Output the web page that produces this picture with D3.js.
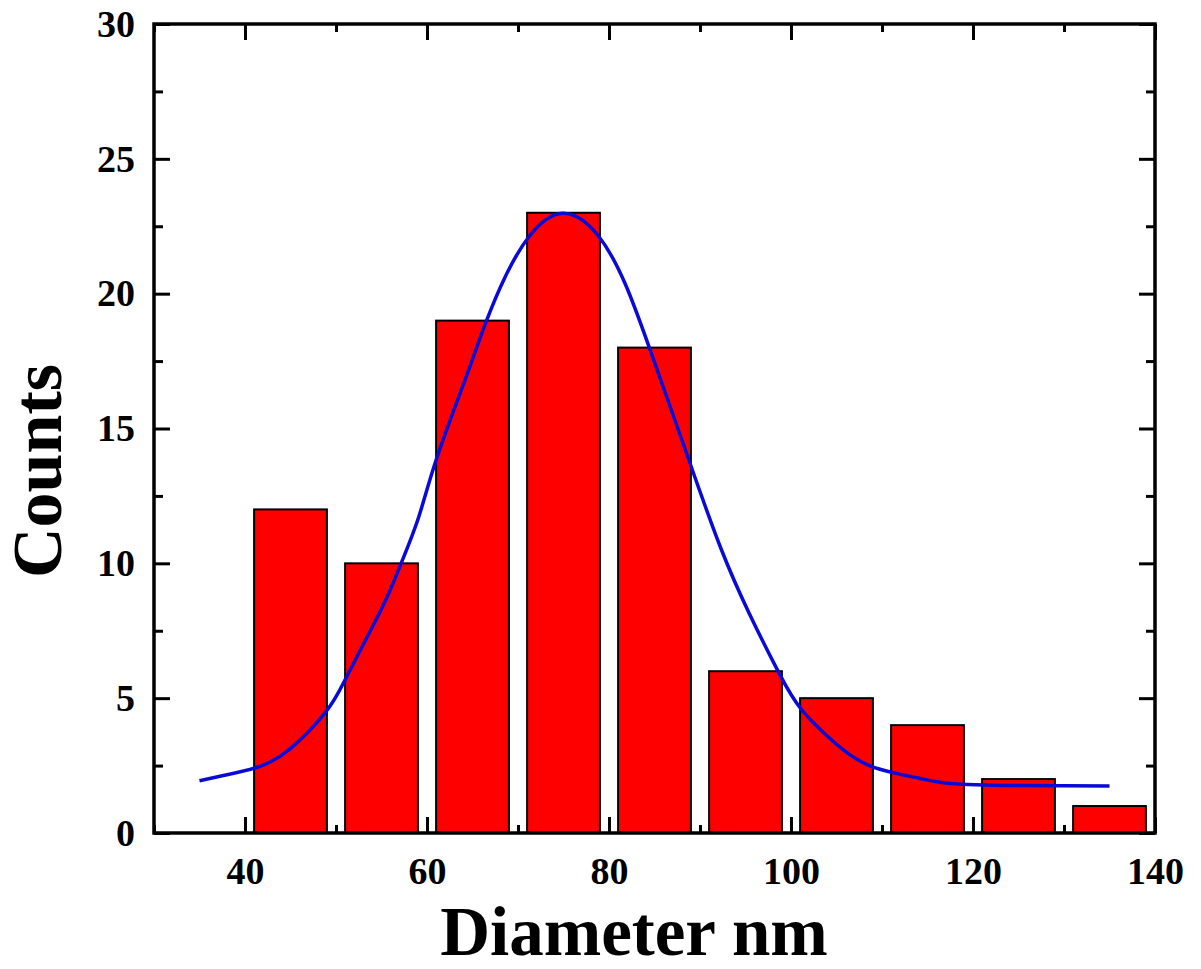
<!DOCTYPE html>
<html>
<head>
<meta charset="utf-8">
<script src="https://cdn.jsdelivr.net/npm/d3@7"></script>
<style>
  html, body { margin: 0; padding: 0; background: #fff; }
  svg text { font-family: "Liberation Serif", "Times New Roman", serif; font-weight: bold; fill: #000; }
</style>
</head>
<body>
<div class="chart"></div>
<script>
// histogram bins (nm) and counts
const binLeft = [41, 51, 61, 71, 81, 91, 101, 111, 121, 131];
const binRight = [49, 59, 69, 79, 89, 99, 109, 119, 129, 139];
const counts = [12, 10, 19, 23, 18, 6, 5, 4, 2, 1];

// fitted curve, points
const fitX = [35, 37.5, 41.2, 44.8, 48.9, 51.1, 54.0, 55.8, 57.3, 59.1, 61.0, 63.9, 66.5, 68.6, 71.2, 74.9,
  78.9, 81.8, 84.4, 88.9, 92.3, 95.4, 98.7, 101.2, 104.9, 108.9, 114.1, 117.4, 124.7, 135];
const fitY = [1.94, 2.12, 2.42, 3.08, 4.5, 5.75, 7.65, 8.89, 10.12, 11.73, 13.83, 16.55, 18.96, 20.63, 22.11, 22.98,
  22.11, 20.35, 18.03, 13.71, 10.55, 8.15, 5.92, 4.56, 3.32, 2.46, 2.03, 1.84, 1.76, 1.74];

const xTicks = [40, 60, 80, 100, 120, 140];
const xMinor = [30, 50, 70, 90, 110, 130];
const yTicks = [0, 5, 10, 15, 20, 25, 30];
const yMinor = [2.5, 7.5, 12.5, 17.5, 22.5, 27.5];

const svgWidth = 1201,
  svgHeight = 969,
  plotLeft = 154,
  plotRight = 1155,
  plotTop = 24,
  plotBottom = 833;

const svg = d3.select('.chart')
  .append('svg')
  .attr('width', svgWidth)
  .attr('height', svgHeight);

const xScale = d3.scaleLinear()
  .domain([30, 140])
  .range([plotLeft, plotRight]);

const yScale = d3.scaleLinear()
  .domain([0, 30])
  .range([plotBottom, plotTop]);

// bars
svg.selectAll('.bar')
  .data(counts)
  .enter()
  .append('rect')
  .attr('class', 'bar')
  .attr('x', (d, i) => xScale(binLeft[i]))
  .attr('y', d => yScale(d))
  .attr('width', (d, i) => xScale(binRight[i]) - xScale(binLeft[i]))
  .attr('height', d => yScale(0) - yScale(d))
  .attr('fill', '#ff0000')
  .attr('stroke', '#000')
  .attr('stroke-width', 2);

// fit line
const fitLine = d3.line()
  .x(d => xScale(d[0]))
  .y(d => yScale(d[1]))
  .curve(d3.curveNatural);

svg.append('path')
  .attr('d', fitLine(d3.zip(fitX, fitY)))
  .attr('fill', 'none')
  .attr('stroke', '#0a0ad8')
  .attr('stroke-width', 3.5);

// axes, ticks pointing inward on all four sides
function styleAxis(g) {
  g.select('.domain').remove();
  g.selectAll('line').attr('stroke', '#000').attr('stroke-width', 3);
  g.selectAll('text').style('font-size', '38px');
}

svg.append('g')
  .attr('transform', `translate(0, ${plotBottom})`)
  .call(d3.axisBottom(xScale).tickValues(xTicks).tickSize(-16).tickPadding(24).tickFormat(d3.format('d')))
  .call(styleAxis);

svg.append('g')
  .attr('transform', `translate(0, ${plotBottom})`)
  .call(d3.axisBottom(xScale).tickValues(xMinor).tickSize(-8).tickFormat(''))
  .call(styleAxis);

svg.append('g')
  .attr('transform', `translate(0, ${plotTop})`)
  .call(d3.axisTop(xScale).tickValues(xTicks).tickSize(-16).tickFormat(''))
  .call(styleAxis);

svg.append('g')
  .attr('transform', `translate(0, ${plotTop})`)
  .call(d3.axisTop(xScale).tickValues(xMinor).tickSize(-8).tickFormat(''))
  .call(styleAxis);

svg.append('g')
  .attr('transform', `translate(${plotLeft}, 0)`)
  .call(d3.axisLeft(yScale).tickValues(yTicks).tickSize(-16).tickPadding(19).tickFormat(d3.format('d')))
  .call(styleAxis);

svg.append('g')
  .attr('transform', `translate(${plotLeft}, 0)`)
  .call(d3.axisLeft(yScale).tickValues(yMinor).tickSize(-9).tickFormat(''))
  .call(styleAxis);

svg.append('g')
  .attr('transform', `translate(${plotRight}, 0)`)
  .call(d3.axisRight(yScale).tickValues(yTicks).tickSize(-16).tickFormat(''))
  .call(styleAxis);

svg.append('g')
  .attr('transform', `translate(${plotRight}, 0)`)
  .call(d3.axisRight(yScale).tickValues(yMinor).tickSize(-9).tickFormat(''))
  .call(styleAxis);

// frame
svg.append('rect')
  .attr('x', plotLeft)
  .attr('y', plotTop)
  .attr('width', plotRight - plotLeft)
  .attr('height', plotBottom - plotTop)
  .attr('fill', 'none')
  .attr('stroke', '#000')
  .attr('stroke-width', 3.5);

// axis titles
svg.append('text')
  .attr('x', 634)
  .attr('y', 955)
  .attr('text-anchor', 'middle')
  .style('font-size', '69px')
  .text('Diameter nm');

svg.append('text')
  .attr('transform', 'translate(61, 471) rotate(-90)')
  .attr('text-anchor', 'middle')
  .style('font-size', '70px')
  .text('Counts');
</script>
</body>
</html>
